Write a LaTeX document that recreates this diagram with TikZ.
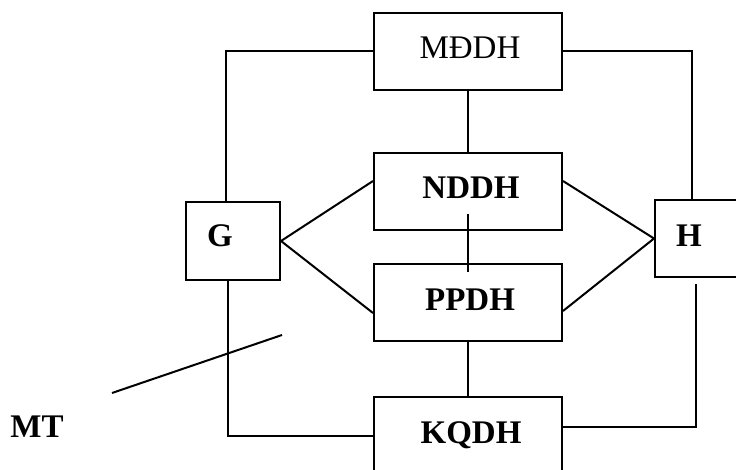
\documentclass[tikz,border=0pt]{standalone}
\usepackage{fontspec}
\setmainfont{Liberation Serif}
\usetikzlibrary{calc}
\begin{document}
\begin{tikzpicture}[x=1pt,y=-1pt,
  box/.style={draw,line width=2pt,rectangle,inner sep=0pt,minimum width=#1},
  box/.default=188pt,
  link/.style={line width=2pt},
  lbl/.style={anchor=base,inner sep=0pt,font=\fontsize{33}{40}\selectfont},
  blbl/.style={lbl,font=\fontsize{33}{40}\selectfont\bfseries}]
\useasboundingbox (0,0) rectangle (736,470);
\clip (0,0) rectangle (736,470);
% blocks
\node[box,minimum height=77pt] (mddh) at (468,51.5) {};
\node[box,minimum height=77pt] (nddh) at (468,191.5) {};
\node[box,minimum height=77pt] (ppdh) at (468,302.5) {};
\node[box,minimum height=100pt] (kqdh) at (468,447) {};
\node[box=94pt,minimum height=78pt] (g) at (233,241) {};
\node[box=85pt,minimum height=77pt] (h) at (697.5,238.5) {};
% block titles
\node[lbl] (tm) at (470,59) {MĐDH};
\node[blbl] (tn) at (471,199) {NDDH};
\node[blbl] (tp) at (470,310) {PPDH};
\node[blbl] (tk) at (471,443) {KQDH};
\node[blbl] (tg) at (220,247) {G};
\node[blbl] (th) at (689,247) {H};
\node[blbl] (tmt) at (37,437) {MT};
% links
\draw[link] (mddh.west) -| ([xshift=-7pt]g.north);
\draw[link] (mddh.east) -| ([xshift=-5.5pt]h.north);
\draw[link] (mddh.south) -- (nddh.north);
\draw[link] ($(nddh.south)+(0,-17)$) -- ($(ppdh.north)+(0,9)$);
\draw[link] (ppdh.south) -- (kqdh.north);
\draw[link] ($(nddh.north west)+(0,29)$) -- (g.east) -- ($(ppdh.north west)+(0,50)$);
\draw[link] ($(nddh.north east)+(0,29)$) -- (h.west) -- ($(ppdh.north east)+(0,48)$);
\draw[link] ([xshift=-5pt]g.south) |- ($(kqdh.north west)+(0,40)$);
\draw[link] ($(h.south)+(-1.5,6)$) |- ($(kqdh.north east)+(0,31)$);
% pointer next to MT
\coordinate (mta) at (112,393);
\coordinate (mtb) at (282,335);
\draw[link] (mta) -- (mtb);
\end{tikzpicture}
\end{document}
